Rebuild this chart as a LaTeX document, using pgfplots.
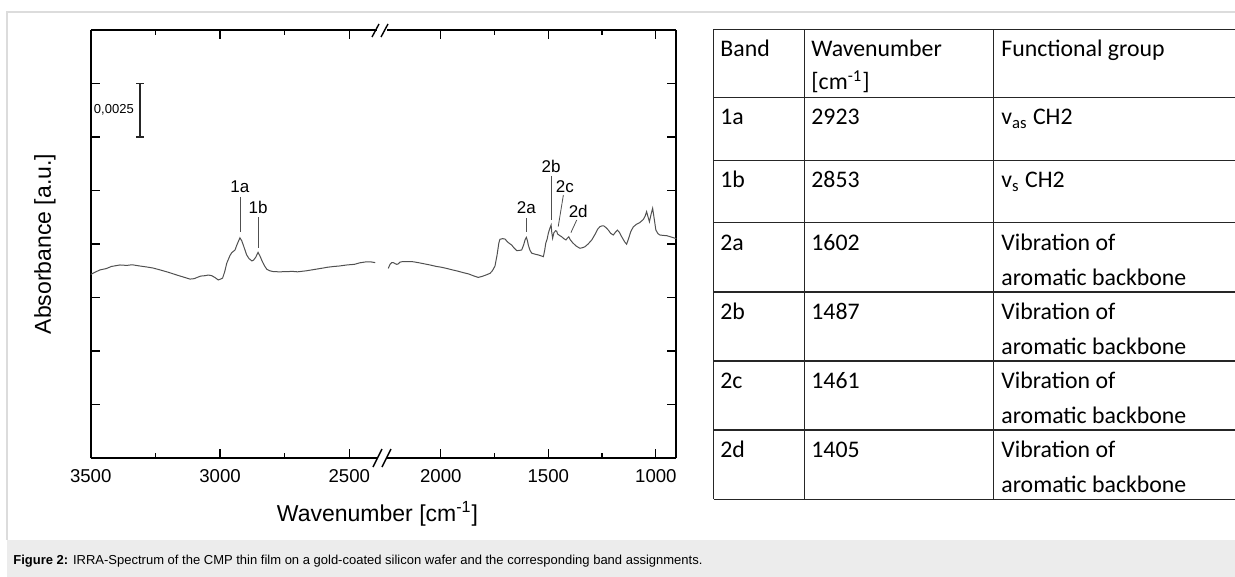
\documentclass[border=0pt]{standalone}
\usepackage{pgfplots}
\pgfplotsset{compat=1.18}
\usepackage{fontspec}
\setmainfont{Liberation Sans}
\newfontfamily\calibri{Carlito}

\definecolor{framegray}{HTML}{DCDCDC}
\definecolor{capgray}{HTML}{ECECEC}
\definecolor{specgray}{HTML}{505050}

% IRRA spectrum, absorbance in units of 0.001 (no y labels in the original)
\pgfplotstableread{
w a
3500 8.58
3480 8.70
3464 8.79
3440 8.85
3420 8.95
3387 9.02
3360 9.00
3340 9.03
3309 8.97
3280 8.92
3260 8.88
3232 8.79
3200 8.68
3167 8.55
3140 8.45
3116 8.36
3100 8.38
3090 8.43
3075 8.50
3058 8.52
3045 8.55
3032 8.52
3019 8.43
3007 8.32
2998 8.36
2990 8.41
2982 8.70
2974 9.10
2962 9.45
2955 9.59
2942 9.72
2935 9.95
2923 10.29
2916 10.15
2910 9.95
2897 9.49
2888 9.32
2877 9.21
2870 9.25
2862 9.38
2853 9.61
2846 9.45
2836 9.17
2828 8.98
2819 8.82
2808 8.75
2794 8.71
2770 8.70
2742 8.71
2720 8.72
2700 8.70
2665 8.75
2640 8.80
2620 8.84
2600 8.88
2587 8.91
2560 8.95
2540 8.97
2510 9.02
2480 9.05
2460 9.12
2433 9.17
2415 9.16
2400 9.13
}\leftdata

\pgfplotstableread{
w a
2244 8.86
2236 9.05
2228 9.13
2221 9.13
2212 9.08
2205 9.05
2198 9.07
2190 9.15
2182 9.17
2160 9.18
2128 9.17
2100 9.12
2080 9.08
2050 9.02
2020 8.95
2000 8.92
1973 8.86
1950 8.80
1920 8.73
1895 8.66
1870 8.60
1850 8.52
1826 8.44
1810 8.48
1790 8.55
1771 8.63
1760 8.75
1748 8.97
1738 9.50
1730 10.05
1725 10.22
1712 10.25
1701 10.23
1690 10.10
1680 10.02
1670 9.95
1660 9.82
1647 9.69
1635 9.70
1624 9.72
1615 9.95
1608 10.20
1602 10.31
1597 10.15
1593 9.95
1585 9.70
1577 9.57
1560 9.52
1547 9.49
1535 9.45
1523 9.41
1517 9.70
1512 10.03
1505 10.25
1500 10.50
1494 10.70
1487 10.89
1484 10.55
1480 10.27
1474 10.53
1466 10.62
1461 10.60
1457 10.47
1448 10.40
1438 10.34
1428 10.25
1418 10.19
1411 10.28
1405 10.34
1398 10.20
1387 10.06
1370 9.90
1353 9.80
1340 9.83
1330 9.87
1315 10.00
1298 10.19
1280 10.50
1270 10.70
1260 10.81
1250 10.85
1241 10.84
1230 10.75
1221 10.65
1210 10.50
1198 10.42
1188 10.55
1179 10.65
1170 10.55
1159 10.34
1145 10.10
1136 9.99
1127 10.25
1117 10.57
1105 10.80
1089 10.93
1075 11.00
1058 11.15
1050 11.30
1043 11.51
1036 11.25
1030 11.04
1022 11.40
1015 11.67
1008 11.20
1000 10.65
990 10.48
981 10.42
965 10.40
950 10.39
930 10.33
911 10.27
905 10.25
}\rightdata

\pgfplotsset{
  irstyle/.style={
    scale only axis,
    height=214pt,
    x dir=reverse,
    ymin=0, ymax=20,
    ytick={2.5,5,...,17.5},
    yticklabels={},
    axis x line*=box,
    tick align=inside,
    major tick length=4.5pt,
    minor tick length=2.5pt,
    tick style={black, line width=0.6pt},
    axis line style={line width=0.9pt},
    tick label style={font=\fontsize{9.3}{11}\selectfont},
    /pgf/number format/assume math mode=true,
    /pgf/number format/1000 sep={},
    xticklabel style={yshift=-2pt},
  },
}
\tikzset{
  spec/.style={specgray, line width=0.5pt},
  ann/.style={font=\fontsize{8.5}{10}\selectfont, inner sep=0pt},
  lead/.style={specgray, line width=0.4pt},
}

\begin{document}
\begin{tikzpicture}
  % left part of the broken axis (positions in pt, 1 px of the reference = 0.5pt)
  \begin{axis}[irstyle, at={(45.35pt,-229pt)}, anchor=south west,
      width=142.9pt, xmin=2395, xmax=3500,
      axis y line*=left,
      xtick={3500,3000,2500}, minor xtick={3250,2750}]
    \addplot[spec, mark=none] table {\leftdata};
    % scale bar
    \draw[black!85, line width=0.6pt] (axis cs:3309,15) -- (axis cs:3309,17.5);
    \draw[black!85, line width=0.6pt] (axis cs:3324,15) -- (axis cs:3294,15);
    \draw[black!85, line width=0.6pt] (axis cs:3324,17.5) -- (axis cs:3294,17.5);
    \node[anchor=east, inner sep=0pt, font=\fontsize{6.5}{8}\selectfont] at (axis cs:3332,16.25) {0,0025};
    % band labels
    \draw[lead] (axis cs:2923,12.2) -- (axis cs:2923,10.56);
    \node[ann] at (axis cs:2923,12.68) {1a};
    \draw[lead] (axis cs:2853,11.25) -- (axis cs:2853,9.8);
    \node[ann] at (axis cs:2853,11.73) {1b};
  \end{axis}

  % right part of the broken axis
  \begin{axis}[irstyle, at={(193.5pt,-229pt)}, anchor=south west,
      width=144.65pt, xmin=905, xmax=2250,
      axis y line*=right,
      xtick={2000,1500,1000}, minor xtick={1750,1250}]
    \addplot[spec, mark=none] table {\rightdata};
    \draw[lead] (axis cs:1602,11.21) -- (axis cs:1602,10.57);
    \node[ann] at (axis cs:1602,11.69) {2a};
    \draw[lead] (axis cs:1487,13.18) -- (axis cs:1487,11.12);
    \node[ann] at (axis cs:1487,13.62) {2b};
    \draw[lead] (axis cs:1430,12.29) -- (axis cs:1454,10.81);
    \node[ann] at (axis cs:1423,12.67) {2c};
    \draw[lead] (axis cs:1368,11.12) -- (axis cs:1395,10.53);
    \node[ann] at (axis cs:1361,11.50) {2d};
  \end{axis}

  \begin{scope}[x=0.5pt,y=-0.5pt]
  \path[use as bounding box] (0,0) rectangle (1235,577);
  % outer frame and caption band
  \fill[capgray] (7,540) rectangle (1235,577);
  \draw[framegray, line width=0.6pt] (1235,12) -- (7,12) -- (7,540);
  \node[anchor=west, inner sep=0pt, font=\fontsize{6.5}{8}\selectfont] at (13,561)
    {\textbf{Figure 2:} IRRA-Spectrum of the CMP thin film on a gold-coated silicon wafer and the corresponding band assignments.};

  % axis break marks
  \begin{scope}[line width=0.7pt]
    \fill[white] (377,22) rectangle (386,40);
    \fill[white] (378,446) rectangle (387,470);
    \draw (372,37) -- (379,24);
    \draw (381,37) -- (388,24);
    \draw (373,467) -- (382,449);
    \draw (382,467) -- (391,449);
  \end{scope}

  % axis titles
  \node[rotate=90, font=\fontsize{11.5}{13}\selectfont] at (45,244) {Absorbance [a.u.]};
  \node[font=\fontsize{11.5}{13}\selectfont] at (377.5,514) {Wavenumber [cm\textsuperscript{-1}]};

  % band assignment table
  \begin{scope}[line width=0.65pt, black!85]
    \foreach \yy in {29.5,97.7,160.3,222.7,292,361,430,499.3}
      \draw (713.5,\yy) -- (1235,\yy);
    \foreach \xx in {713.5,804.5,993.5}
      \draw (\xx,29.5) -- (\xx,499.3);
  \end{scope}
  \begin{scope}[every node/.style={anchor=base west, inner sep=0pt,
      font=\calibri\fontsize{11.9}{14}\selectfont}]
    \node at (720,57) {Band};
    \node at (811,57) {Wavenumber};
    \node at (811,90) {[cm\textsuperscript{-1}]};
    \node at (1001,57) {Functional group};
    \node at (720,125) {1a};
    \node at (811,125) {2923};
    \node at (1001,125) {v\textsubscript{as} CH2};
    \node at (720,188) {1b};
    \node at (811,188) {2853};
    \node at (1001,188) {v\textsubscript{s} CH2};
    \node at (720,250) {2a};
    \node at (811,250) {1602};
    \node at (1001,250) {Vibration of};
    \node at (1001,285.5) {aromatic backbone};
    \node at (720,319) {2b};
    \node at (811,319) {1487};
    \node at (1001,319) {Vibration of};
    \node at (1001,354.5) {aromatic backbone};
    \node at (720,388) {2c};
    \node at (811,388) {1461};
    \node at (1001,388) {Vibration of};
    \node at (1001,423.5) {aromatic backbone};
    \node at (720,457) {2d};
    \node at (811,457) {1405};
    \node at (1001,457) {Vibration of};
    \node at (1001,492.5) {aromatic backbone};
  \end{scope}
  \end{scope}
\end{tikzpicture}
\end{document}
